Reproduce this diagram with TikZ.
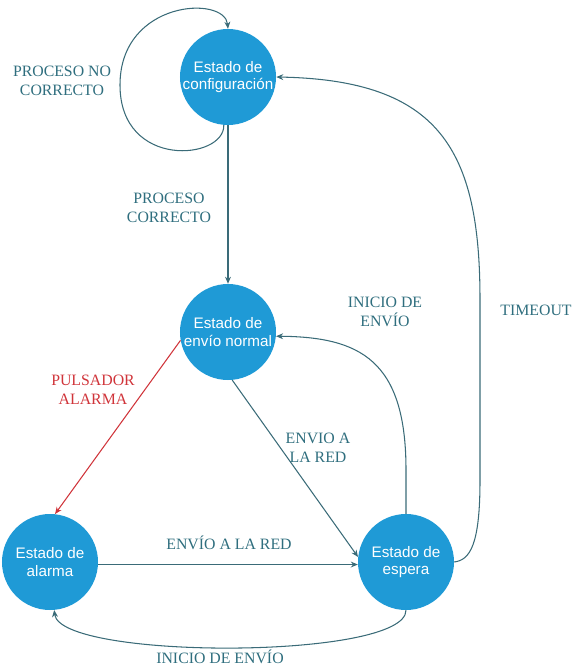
\documentclass[tikz,border=0pt]{standalone}
\usepackage{fontspec}
\setmainfont{Liberation Serif}
\newfontfamily\statefont{Liberation Sans}
\usepackage{tikz}
\definecolor{stblue}{HTML}{1F9AD6}
\definecolor{lnteal}{HTML}{3A6B78}
\definecolor{lbteal}{HTML}{2F6E7E}
\definecolor{alred}{HTML}{D0343A}
\usetikzlibrary{arrows.meta, positioning, calc}

\tikzset{
  state/.style={circle, fill=stblue, minimum size=2.88cm, inner sep=0pt, align=center, text=white, font=\statefont\fontsize{13}{15}\selectfont},
  conn/.style={draw=lnteal, line width=0.9pt, -{Stealth[length=6pt,width=5pt]}},
  lbl/.style={text=lbteal, align=center, font=\fontsize{13.5}{16}\selectfont},
}

\begin{document}
\begin{tikzpicture}[x=0.03cm, y=-0.03cm]
\useasboundingbox (0,0) rectangle (579,667);
% States
\node[state] (conf) at (228,77) {Estado de\\configuración};
\node[state] (norm) at (228,332) {Estado de\\envío normal};
\node[state] (alarm) at (50,562) {Estado de\\alarma};
\node[state] (esp) at (406,562) {Estado de\\espera};
% Transitions
\draw[conn] (conf.-95) .. controls (225,160) and (120,170) .. (120,85) .. controls (120,0) and (225,-5) .. (conf.north);
\node[lbl] (lnoc) at (62,81) {PROCESO NO\\CORRECTO};
\draw[conn] (conf.south) -- (norm.north);
\node[lbl] (lcor) at (169,208) {PROCESO\\CORRECTO};
\draw[conn] (esp.east) .. controls (470,560) and (480,545) .. (480,480) -- (480,300) .. controls (480,150) and (440,80) .. (conf.east);
\node[lbl] (ltime) at (536,310) {TIMEOUT};
\draw[conn] (esp.north) -- (406,470) .. controls (406,360) and (360,337) .. (norm.-5);
\node[lbl] (linic) at (385,312) {INICIO DE\\ENVÍO};
\draw[conn] (norm.-85) -- (esp.174);
\node[lbl] (lred) at (318,448) {ENVIO A\\LA RED};
\draw[conn, draw=alred] (norm.190) -- (alarm.84);
\node[lbl, text=alred] (lpuls) at (93,390) {PULSADOR\\ALARMA};
\draw[conn] (alarm.-3) -- (esp.183);
\node[lbl] (lenv) at (229,543) {ENVÍO A LA RED};
\draw[conn] (esp.south) .. controls (406,660) and (60,660) .. (alarm.-85);
\node[lbl] (linic2) at (220,657) {INICIO DE ENVÍO};
\end{tikzpicture}
\end{document}
